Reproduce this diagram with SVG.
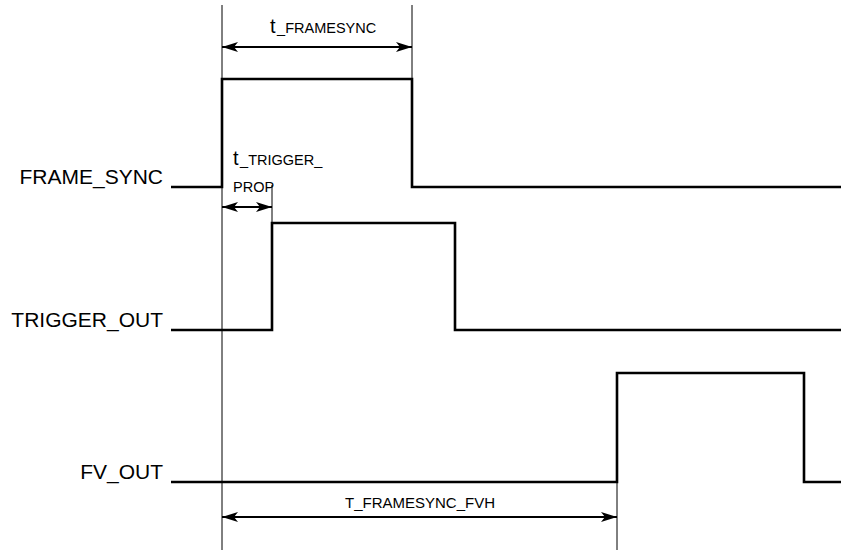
<svg xmlns="http://www.w3.org/2000/svg" width="841" height="550" viewBox="0 0 841 550">
<style>
.wave{fill:none;stroke:#000;stroke-width:2.6;stroke-linejoin:miter}
.thin{fill:none;stroke:#000;stroke-width:1}
.dim{fill:none;stroke:#000;stroke-width:2}
.lbl{font-family:"Liberation Sans",Arial,sans-serif;font-size:21px;fill:#000;text-anchor:end}
.t{font-family:"Liberation Sans",Arial,sans-serif;font-size:20px;fill:#000}
.s{font-size:14.5px}
.m{font-family:"Liberation Sans",Arial,sans-serif;font-size:14.5px;fill:#000}
</style>
<defs>
<marker id="ah" viewBox="0 0 16 10" refX="16" refY="5" markerWidth="16" markerHeight="10" markerUnits="userSpaceOnUse" orient="auto-start-reverse">
<path d="M0,0 L16,5 L0,10 L4,5 Z" fill="#000"/>
</marker>
</defs>
<rect width="841" height="550" fill="#fff"/>
<g id="guides">
<line class="thin" x1="222" y1="5" x2="222" y2="550"/>
<line class="thin" x1="412" y1="5" x2="412" y2="79"/>
<line class="thin" x1="272" y1="185" x2="272" y2="223"/>
<line class="thin" x1="617" y1="482" x2="617" y2="550"/>
</g>
<g id="frame_sync">
<text class="lbl" x="163" y="184">FRAME_SYNC</text>
<polyline class="wave" points="171,187 222,187 222,79 412,79 412,187 841,187"/>
</g>
<g id="trigger_out">
<text class="lbl" x="163" y="327">TRIGGER_OUT</text>
<polyline class="wave" points="171,330 272,330 272,223 455,223 455,330 841,330"/>
</g>
<g id="fv_out">
<text class="lbl" x="163" y="479">FV_OUT</text>
<polyline class="wave" points="171,482 617,482 617,373 804,373 804,482 841,482"/>
</g>
<g id="connectors">
<line class="dim" x1="222" y1="47" x2="412" y2="47" marker-start="url(#ah)" marker-end="url(#ah)"/>
<line class="dim" x1="222" y1="207" x2="272" y2="207" marker-start="url(#ah)" marker-end="url(#ah)"/>
<line class="dim" x1="222" y1="517" x2="617" y2="517" marker-start="url(#ah)" marker-end="url(#ah)"/>
</g>
<g id="t_framesync">
<text class="t" x="270" y="33">t<tspan class="s" dx="1.5">_FRAMESYNC</tspan></text>
</g>
<g id="t_trigger_prop">
<text class="t" x="233" y="165">t<tspan class="s" dx="1.5">_TRIGGER_</tspan></text>
<text class="m" x="233" y="192">PROP</text>
</g>
<g id="t_framesync_fvh">
<text class="m" x="420" y="508" text-anchor="middle" style="font-size:15px">T_FRAMESYNC_FVH</text>
</g>
</svg>
